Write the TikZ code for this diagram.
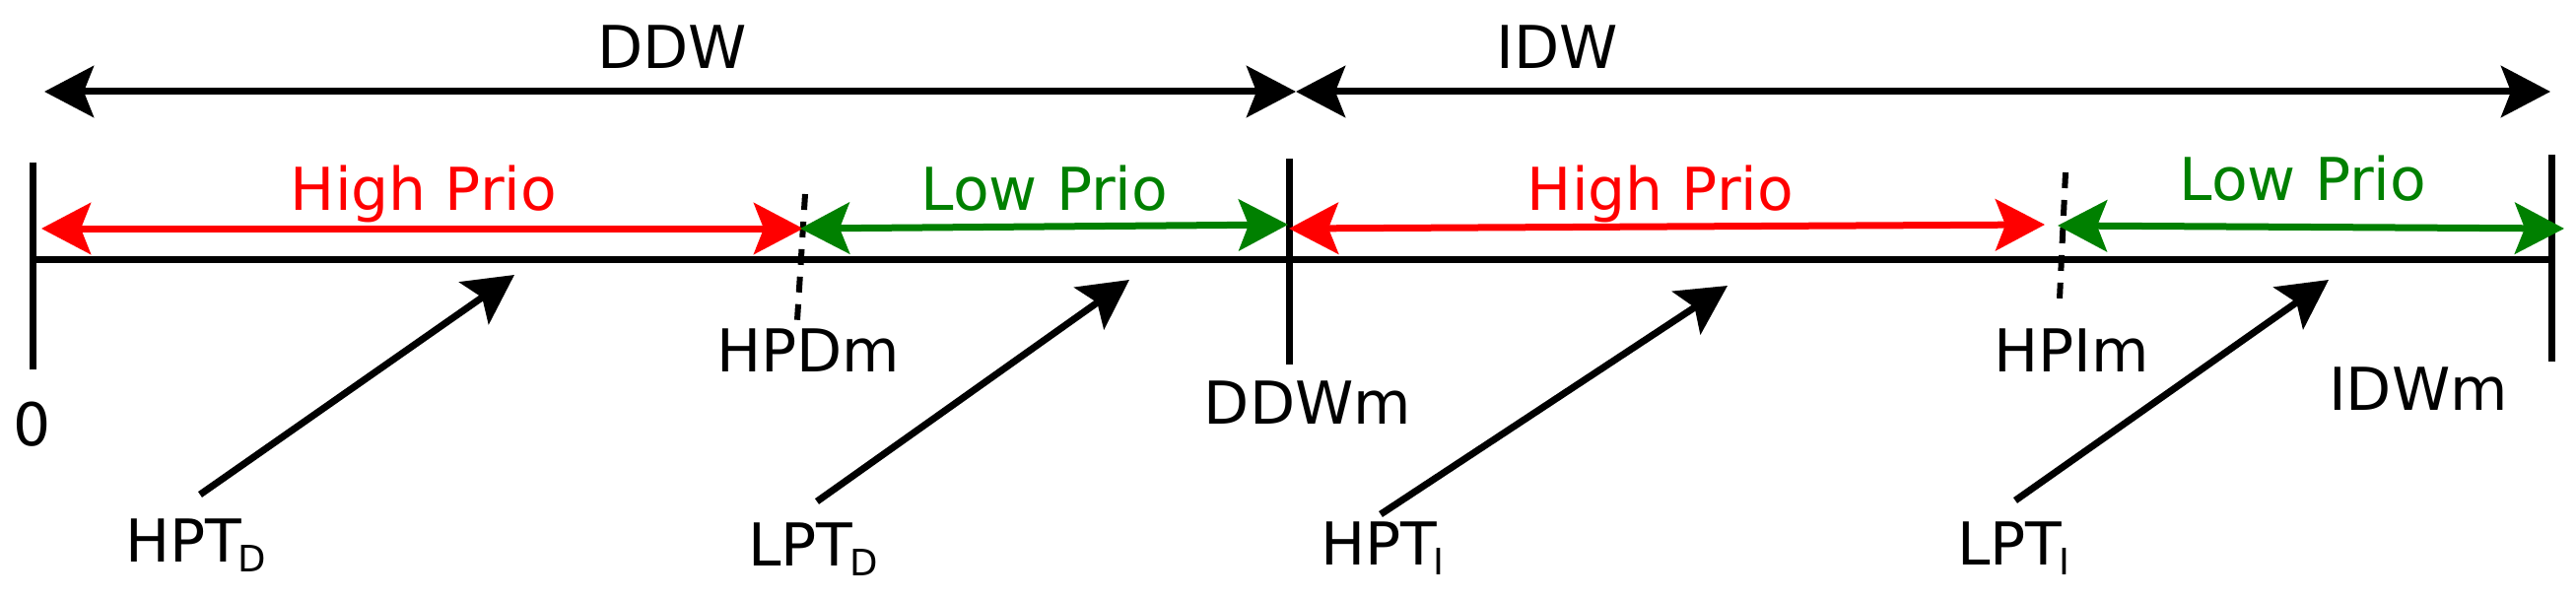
\documentclass[tikz,border=0pt]{standalone}
\usepackage{fontspec}
\setmainfont{DejaVu Sans}
\usetikzlibrary{arrows.meta}
\definecolor{prioRed}{RGB}{255,0,0}
\definecolor{prioGreen}{RGB}{0,128,0}
\newcommand\subtxt[1]{\kern-3pt\raisebox{-10pt}{\fontsize{37}{40}\selectfont #1}}
\begin{document}
\begin{tikzpicture}[x=1pt,y=-1pt,
  >={Stealth[length=50pt,width=52pt,inset=10pt]},
  lbl/.style={font=\fontsize{60}{72}\selectfont, anchor=base, inner sep=0pt, outer sep=0pt},
  lblw/.style={lbl, anchor=base west},
  span/.style={line width=7pt, <->},
  bar/.style={line width=7pt},
  dashmark/.style={line width=6pt, dash pattern=on 16pt off 12pt},
  ptr/.style={line width=7pt, ->}]
\useasboundingbox (0,0) rectangle (2614,607);

% coordinates
\coordinate (ddwL) at (45,93);
\coordinate (mid) at (1315,93);
\coordinate (idwR) at (2588,93);
\coordinate (b0t) at (33,165);  \coordinate (b0b) at (33,375);
\coordinate (b1t) at (1308,161); \coordinate (b1b) at (1308,370);
\coordinate (b2t) at (2589,157); \coordinate (b2b) at (2589,367);
\coordinate (tlL) at (33,263);  \coordinate (tlR) at (2589,263);
\coordinate (d1t) at (817,197); \coordinate (d1b) at (809,325);
\coordinate (d2t) at (2096,175); \coordinate (d2b) at (2090,303);
\coordinate (h1L) at (42,232);  \coordinate (h1R) at (815,232);
\coordinate (l1L) at (812,232); \coordinate (l1R) at (1307,228);
\coordinate (h2L) at (1308,232); \coordinate (h2R) at (2075,228);
\coordinate (l2L) at (2088,229); \coordinate (l2R) at (2602,232);
\coordinate (sHPTD) at (203,502); \coordinate (tHPTD) at (522,279);
\coordinate (sLPTD) at (829,509); \coordinate (tLPTD) at (1146,284);
\coordinate (sHPTI) at (1401,522); \coordinate (tHPTI) at (1753,290);
\coordinate (sLPTI) at (2045,508); \coordinate (tLPTI) at (2363,284);

% labels
\node[lbl] (ddw) at (682,70) {DDW};
\node[lbl] (idw) at (1580,70) {IDW};
\node[lbl, text=prioRed] (hp1) at (430,213) {High Prio};
\node[lbl, text=prioGreen] (lp1) at (1060,213) {Low Prio};
\node[lbl, text=prioRed] (hp2) at (1685,213) {High Prio};
\node[lbl, text=prioGreen] (lp2) at (2337,203) {Low Prio};
\node[lbl] (hpdm) at (820,377) {HPDm};
\node[lbl] (hpim) at (2102,377) {HPIm};
\node[lbl] (ddwm) at (1327,430) {DDWm};
\node[lbl] (idwm) at (2454,416) {IDWm};
\node[lbl] (zero) at (33,452) {0};
\node[lblw] (hptd) at (127,570) {HPT\subtxt{D}};
\node[lblw] (lptd) at (759,574) {LPT\subtxt{D}};
\node[lblw] (hpti) at (1340,573) {HPT\subtxt{I}};
\node[lblw] (lpti) at (1986,573) {LPT\subtxt{I}};

% window arrows
\draw[span] (ddwL) -- (mid);
\draw[span] (mid) -- (idwR);

% timeline and bars
\draw[bar] (tlL) -- (tlR);
\draw[bar] (b0t) -- (b0b);
\draw[bar] (b1t) -- (b1b);
\draw[bar] (b2t) -- (b2b);
\draw[dashmark] (d1t) -- (d1b);
\draw[dashmark] (d2t) -- (d2b);

% priority arrows
\draw[span, prioRed] (h1L) -- (h1R);
\draw[span, prioGreen] (l1L) -- (l1R);
\draw[span, prioRed] (h2L) -- (h2R);
\draw[span, prioGreen] (l2L) -- (l2R);

% pointers
\draw[ptr] (sHPTD) -- (tHPTD);
\draw[ptr] (sLPTD) -- (tLPTD);
\draw[ptr] (sHPTI) -- (tHPTI);
\draw[ptr] (sLPTI) -- (tLPTI);
\end{tikzpicture}
\end{document}
